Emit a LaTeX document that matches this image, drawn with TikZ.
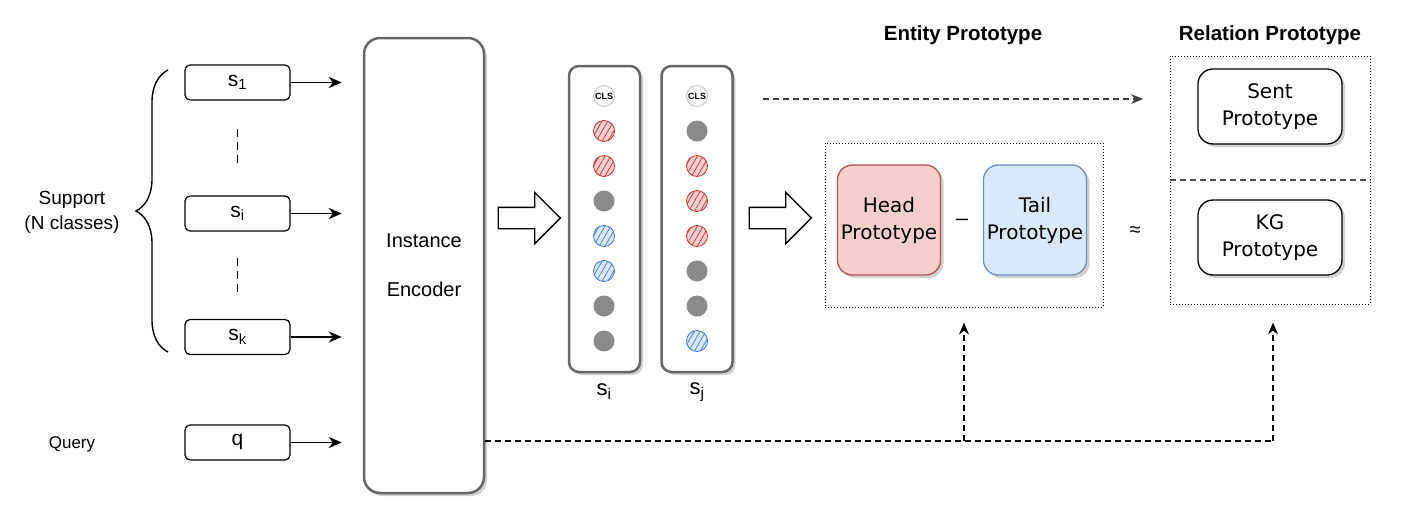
\documentclass[tikz,border=0pt]{standalone}
\usepackage{fontspec}
\setmainfont{Liberation Sans}
\newfontfamily\protofont{DejaVu Sans}
\usetikzlibrary{arrows.meta,shadows,patterns.meta,shapes.arrows,decorations.pathreplacing,positioning}
\definecolor{headfill}{HTML}{F8CECC}
\definecolor{headline}{HTML}{B85450}
\definecolor{tailfill}{HTML}{DAE8FC}
\definecolor{tailline}{HTML}{6C8EBF}
\definecolor{tokredline}{HTML}{CC3333}
\definecolor{tokblueline}{HTML}{3C78D0}
\definecolor{encline}{HTML}{666666}
\definecolor{tokgrayfill}{HTML}{8A8A8A}
\begin{document}
\begin{tikzpicture}
[x=1pt, y=-1pt,
  inputbox/.style={shape=rectangle,rounded corners=5pt,draw,line width=1.2pt,
    minimum width=105pt,minimum height=35pt,inner sep=0pt,
    font=\fontsize{21}{23}\selectfont},%
  shade/.style={drop shadow={shadow xshift=3pt,shadow yshift=-3pt,opacity=0.3,fill=black!60}},%
  encbox/.style={shape=rectangle,rounded corners=16pt,draw=encline,line width=2.5pt,
    fill=white,shade,align=center,font=\fontsize{20}{49}\selectfont},%
  colbox/.style={shape=rectangle,rounded corners=10pt,draw=encline,line width=2.5pt,
    fill=white,shade,minimum width=71pt,minimum height=306pt},%
  tok/.style={shape=circle,minimum size=21pt,inner sep=0pt},%
  tokred/.style={tok,draw=tokredline,line width=0.8pt,preaction={fill=headfill},
    pattern={Lines[angle=60,distance=5pt,line width=0.7pt]},pattern color=tokredline},%
  tokblue/.style={tok,draw=tokblueline,line width=0.8pt,preaction={fill=tailfill},
    pattern={Lines[angle=60,distance=5pt,line width=0.7pt]},pattern color=tokblueline},%
  tokgray/.style={tok,fill=tokgrayfill},%
  tokcls/.style={tok,draw=black!25,line width=0.8pt,fill=white,
    font=\fontsize{9}{9}\selectfont\bfseries},%
  fatarrow/.style={shape=single arrow,draw,line width=1.3pt,fill=white,inner sep=10pt,
    minimum height=62pt,single arrow head extend=15pt},%
  dotbox/.style={shape=rectangle,draw,dotted,line width=1pt},%
  protobox/.style={shape=rectangle,rounded corners=15pt,line width=1.3pt,shade,
    align=center,font=\protofont\fontsize{20}{27}\selectfont},%
  longdash/.style={dash pattern=on 6pt off 4pt},%
  inarrow/.style={-{Stealth[length=13pt,width=11pt]},line width=1.6pt},%
  dasharrow/.style={-{Stealth[length=12pt,width=10pt]},longdash,line width=1.4pt}]
\useasboundingbox (0,0) rectangle (1404,514);
%% support and query inputs
\foreach \nodename/\y/\txt in {s1/82.5/s\textsubscript{1}, si/213.5/s\textsubscript{i},
  sk/337/s\textsubscript{k}, q/442.5/q}
{
  \node (\nodename) at (237.5,\y) [inputbox] {\txt};
}
\node (support) at (72,212) [align=center,font=\fontsize{19}{25}\selectfont]
  {Support\\(N classes)};
\node (query) at (72,444) [font=\fontsize{17}{20}\selectfont] {Query};
\draw [decorate,decoration={brace,amplitude=32pt,aspect=0.5},line width=1.4pt]
  (168,352) -- (168,70);
\draw [dash pattern=on 8pt off 5pt,line width=1.4pt,shorten <=28pt,shorten >=31pt]
  (s1.south) -- (si.north);
\draw [dash pattern=on 8pt off 5pt,line width=1.4pt,shorten <=26pt,shorten >=27pt]
  (si.south) -- (sk.north);
%% encoder
\node (encoder) at (424,265.5) [encbox,minimum width=120pt,minimum height=455pt]
  {Instance\\Encoder};
\foreach \nodename in {s1, si, sk, q}
{
  \draw [inarrow,shorten >=21pt] (\nodename.east) -- (\nodename.east -| encoder.west);
}
\node (fat1) at (524,218) [fatarrow] {};
%% token columns
\node (coli) at (604.5,219) [colbox] {};
\node (colj) at (697,219) [colbox] {};
\node (clsi) at (604,96) [tokcls] {CLS};
\node (clsj) at (697,96) [tokcls] {CLS};
\foreach \kind [count=\k] in {red,red,gray,blue,blue,gray,gray}
{
  \node (ti\k) at (604,{96+35*\k}) [tok\kind] {};
}
\foreach \kind [count=\k] in {gray,red,red,red,gray,gray,blue}
{
  \node (tj\k) at (697,{96+35*\k}) [tok\kind] {};
}
\node (labi) at (604,392) [font=\fontsize{22}{24}\selectfont] {s\textsubscript{i}};
\node (labj) at (697,392) [font=\fontsize{22}{24}\selectfont] {s\textsubscript{j}};
\node (fat2) at (775,218) [fatarrow] {};
%% entity prototype
\node (enttitle) at (963,35) [font=\fontsize{20.5}{24}\selectfont\bfseries] {Entity Prototype};
\node (entity) at (964,225) [dotbox,minimum width=278pt,minimum height=164pt] {};
\node (head) at (889,220) [protobox,fill=headfill,draw=headline,
  minimum width=102pt,minimum height=110pt] {Head\\Prototype};
\node (tail) at (1035,220) [protobox,fill=tailfill,draw=tailline,
  minimum width=102pt,minimum height=110pt] {Tail\\Prototype};
\node (minus) at (962,222) [font=\fontsize{22}{22}\selectfont] {\textendash};
\node (approx) at (1135,232) [font=\fontsize{20}{20}\selectfont] {≈};
%% relation prototype
\node (reltitle) at (1270,35) [font=\fontsize{20.5}{24}\selectfont\bfseries] {Relation Prototype};
\node (relation) at (1270,180) [dotbox,minimum width=200pt,minimum height=248pt] {};
\draw [longdash,line width=1.2pt,draw=black!70] (relation.west) -- (relation.east);
\node (sent) at (1270,106.5) [protobox,draw,fill=white,
  minimum width=144pt,minimum height=75pt] {Sent\\Prototype};
\node (kg) at (1270,237.5) [protobox,draw,fill=white,
  minimum width=144pt,minimum height=75pt] {KG\\Prototype};
%% dashed connectors
\coordinate (clsfrom) at (763,99);
\coordinate (clsto) at (1143,99);
\draw [dasharrow,draw=black!75] (clsfrom) -- (clsto);
\coordinate (qent) at (964,441);
\coordinate (qrel) at (1273,441);
\draw [longdash,line width=1.4pt] (encoder.east |- qrel) -- (qrel);
\draw [dasharrow] (qent) -- ([yshift=-15pt]entity.south);
\draw [dasharrow] (qrel) -- ([yshift=-18pt]relation.south -| qrel);
\end{tikzpicture}
\end{document}
